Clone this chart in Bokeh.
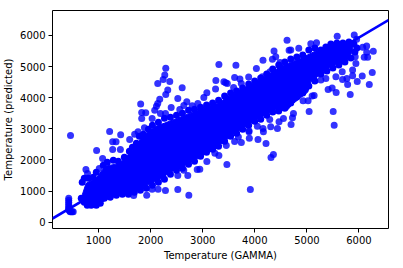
from bokeh.plotting import figure
from bokeh.models import Range1d, FixedTicker
from bokeh.embed import file_html
from bokeh.resources import INLINE

# Upper and lower edge of the saturated core of the cloud
upper_x = [690, 760, 950, 1130, 1400, 1650, 1850, 2100, 2515, 2900, 3285, 3535, 3862, 4170, 4498, 4883, 5210, 5460, 5800, 5880]
upper_y = [900, 1250, 1410, 1800, 1890, 2310, 2780, 3080, 3340, 3600, 3820, 4080, 4370, 4630, 5010, 5270, 5530, 5690, 5750, 5650]
lower_x = [690, 760, 1000, 1360, 1610, 1937, 2188, 2380, 2707, 3015, 3343, 3593, 3862, 4054, 4401, 4632, 4728, 5017, 5075, 5325, 5460, 5780, 5880]
lower_y = [750, 560, 590, 910, 910, 1200, 1390, 1610, 1870, 2160, 2510, 2830, 3120, 3320, 3610, 3610, 3800, 4180, 4510, 4830, 4990, 5210, 5500]

# Points along the rim of the cloud
rim_top_x = [686, 725, 802, 898, 956, 1090, 1167, 1283, 1379, 1495, 1591, 1649, 1726, 1783, 1860, 1957, 2034, 2149, 2265, 2380,
             2496, 2611, 2727, 2842, 2958, 3073, 3189, 3304, 3420, 3535, 3651, 3766, 3882, 3997, 4113, 4228, 4344, 4459, 4575,
             4690, 4806, 4921, 5037, 5152, 5268, 5364, 5460, 5576, 5691, 5807, 5903, 5961]
rim_top_y = [1286, 1415, 1415, 1447, 1608, 1833, 1929, 1993, 1961, 2090, 2283, 2411, 2540, 2765, 2829, 2990, 3119, 3215, 3344, 3376,
             3440, 3504, 3601, 3633, 3697, 3762, 3826, 3922, 4051, 4147, 4212, 4308, 4437, 4533, 4630, 4758, 4919, 5048, 5144,
             5240, 5305, 5369, 5530, 5594, 5530, 5626, 5723, 5755, 5755, 5787, 5723, 5594]
rim_low_x = [667, 725, 782, 859, 956, 1033, 1110, 1225, 1341, 1456, 1572, 1687, 1803, 1918, 2034, 2149, 2265, 2380, 2496, 2611,
             2727, 2842, 2958, 3073, 3189, 3304, 3420, 3535, 3651, 3766, 3882, 3997, 4113, 4228, 4344, 4459, 4575, 4690, 4806,
             4921, 5037, 5152, 5268, 5384, 5499, 5614, 5730, 5845, 5922]
rim_low_y = [772, 643, 547, 547, 547, 611, 772, 804, 868, 900, 900, 965, 1029, 1093, 1190, 1286, 1382, 1543, 1672, 1736,
             1865, 1961, 2122, 2251, 2347, 2443, 2604, 2765, 2861, 2990, 3119, 3247, 3311, 3440, 3537, 3569, 3665, 3826, 4019,
             4147, 4372, 4533, 4758, 4855, 4951, 5048, 5144, 5273, 5466]

# The narrow column of points at the low end
column_x = [426, 426, 426, 426, 426, 426, 426, 436, 445, 455, 475, 494, 513]
column_y = [772, 707, 643, 579, 514, 450, 420, 386, 360, 340, 340, 340, 340]

# Individually visible points
gamma = [461, 1212, 1424, 962, 1270, 1335, 1597, 1270, 1418, 1077, 757, 788, 1013, 1758, 1693,
         3310, 2290, 2271, 2240, 2136, 2367, 2605, 2328, 2290, 2521, 2174, 1808, 2136, 2111, 2078,
         2694, 2636, 2559, 2394, 1828, 1905, 1828, 3252, 3246, 3079, 3021, 2906, 2798, 3406, 3472,
         1880, 2028, 2188, 2284,
         4619, 4844, 4658, 4369, 4402, 4338, 4157, 3637, 4030, 4484, 4292, 3882, 3612, 3714, 3741,
         3439, 3593, 4145,
         5582, 5909, 5955, 5075, 5185, 4690, 6275, 6148, 6071, 6167, 6101, 6148, 6255, 6063, 5967,
         6198, 5832, 5878, 5782, 5768, 5685, 5678, 5557, 5408, 5485, 5562, 5505, 5043, 5139, 5100,
         5023, 4927, 5928, 5941, 5878, 5364, 5268,
         5524, 4696, 4434, 4305, 4157, 4049, 3888, 4465, 4550, 4723, 4742, 4286,
         3914, 3464, 3079, 3310, 4311, 4357, 4215, 4061, 3895, 3741, 3612, 3684, 2944,
         2733, 2521, 2284, 2143, 2028, 1924, 2521, 2713, 2894, 3233, 3452, 3888, 4165, 2636, 1674]
predicted = [2787, 2916, 2807, 2305, 2582, 2582, 2659, 2337, 2337, 2048, 1694, 1566, 1726, 2903, 2829,
             5070, 4942, 4726, 4588, 4459, 4523, 4318, 4244, 4106, 3977, 3954, 3794, 3816, 3729, 3601,
             3868, 3752, 3623, 3688, 3527, 3514, 3334, 4556, 4276, 4157, 4009, 3816, 3739, 4511, 4459,
             3032, 3334, 3495, 3495,
             5842, 5584, 5520, 5498, 5314, 5231, 5199, 5038, 4941, 5134, 4832, 4662, 4652, 4597, 4459,
             4479, 4331, 4671,
             5970, 6012, 5874, 5732, 5764, 5530, 5488, 5658, 5617, 5295, 5295, 5456, 4813, 4694, 4524,
             4427, 4106, 4704, 4427, 4620, 4588, 4832, 4672, 4266, 4308, 4170, 3559, 3559, 4073, 4051,
             3900, 3900, 5314, 5102, 4887, 4620, 4565,
             3119, 3141, 3012, 3064, 3012, 3086, 2935, 3225, 3334, 3353, 3495, 3302,
             1051, 1855, 1951, 2144, 2080, 2177, 2530, 2659, 2701, 2562, 2595, 2742, 1704,
             868, 1051, 1019, 1061, 1061, 868, 1501, 1501, 1694, 2218, 2466, 2903, 2903, 1672, 858]

# Fitted line end points
fit_x = [115, 6567]
fit_y = [119, 6494]

x_ticks = [1000, 2000, 3000, 4000, 5000, 6000]
y_ticks = [0, 1000, 2000, 3000, 4000, 5000, 6000]

p = figure(width=403, height=268, output_backend="svg", toolbar_location=None,
           x_range=Range1d(115, 6567), y_range=Range1d(-200, 6800),
           min_border_left=52, min_border_right=15, min_border_top=10, min_border_bottom=40)

p.patch(upper_x + lower_x[::-1], upper_y + lower_y[::-1], fill_color="#0000ff", line_color="#0000ff", line_width=1)
p.line(fit_x, fit_y, line_color="#0000ff", line_width=2.6)
p.scatter(rim_top_x, rim_top_y, size=7, fill_color="#0000ff", line_color=None)
p.scatter(rim_low_x, rim_low_y, size=7, fill_color="#0000ff", line_color=None)
p.scatter(column_x, column_y, size=7, fill_color="#0000ff", fill_alpha=0.8, line_color=None)
p.scatter(gamma, predicted, size=7, fill_color="#0000ff", fill_alpha=0.8, line_color=None)

p.grid.visible = False
p.outline_line_color = "#000000"
p.outline_line_width = 1
p.xaxis.ticker = FixedTicker(ticks=x_ticks)
p.yaxis.ticker = FixedTicker(ticks=y_ticks)
p.xaxis.axis_label = "Temperature (GAMMA)"
p.yaxis.axis_label = "Temperature (predicted)"
for ax in (p.xaxis[0], p.yaxis[0]):
    ax.axis_line_color = None
    ax.major_tick_line_color = "#000000"
    ax.major_tick_line_width = 1
    ax.major_tick_in = 0
    ax.major_tick_out = 4
    ax.minor_tick_line_color = None
    ax.major_label_text_font = "DejaVu Sans"
    ax.major_label_text_font_size = "10px"
    ax.major_label_text_color = "#000000"
    ax.axis_label_text_font = "DejaVu Sans"
    ax.axis_label_text_font_size = "10px"
    ax.axis_label_text_font_style = "normal"
    ax.axis_label_text_color = "#000000"
    ax.major_label_standoff = 3
    ax.axis_label_standoff = 3

open("out.html", "w").write(file_html(p, INLINE))
